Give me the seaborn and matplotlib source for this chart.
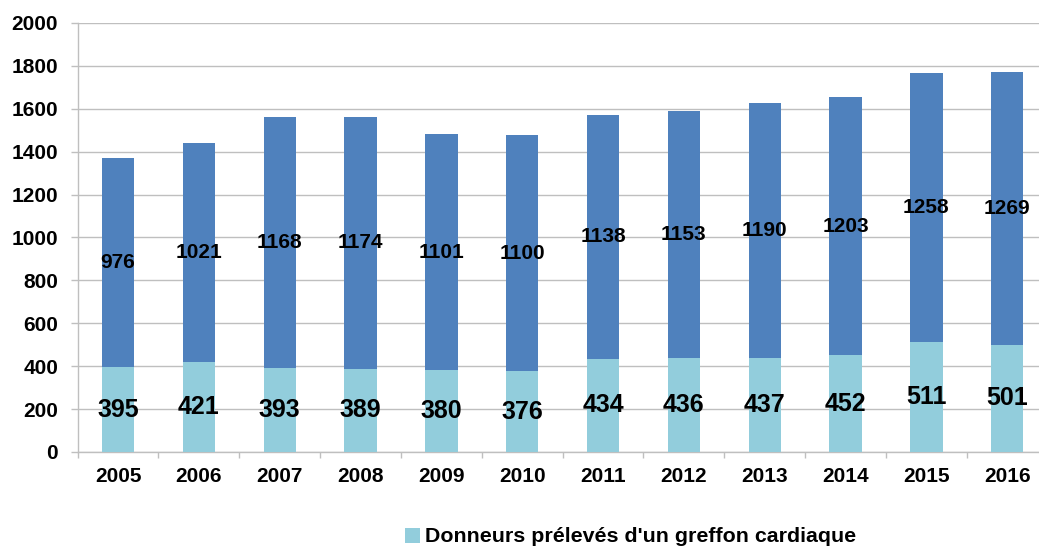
import numpy as np
import pandas as pd
import matplotlib
matplotlib.use("Agg")
import matplotlib.pyplot as plt
import seaborn as sns
from matplotlib.patches import Patch

# données
annees = ["2005", "2006", "2007", "2008", "2009", "2010",
          "2011", "2012", "2013", "2014", "2015", "2016"]
greffon_cardiaque = [395, 421, 393, 389, 380, 376, 434, 436, 437, 452, 511, 501]
autres = [976, 1021, 1168, 1174, 1101, 1100, 1138, 1153, 1190, 1203, 1258, 1269]

legende_bas = "Donneurs prélevés d'un greffon cardiaque"

clair = "#92CDDC"
fonce = "#4F81BD"
gris = "#BFBFBF"

sns.set_theme(style="white")
plt.rcParams["font.family"] = ["Liberation Sans", "DejaVu Sans"]
plt.rcParams["font.weight"] = "bold"
plt.rcParams["text.color"] = "black"

df = pd.DataFrame({"annee": annees, "bas": greffon_cardiaque, "haut": autres})

fig = plt.figure(figsize=(10.39, 5.47), dpi=100)
ax = fig.add_axes([0.0747, 0.1737, 0.9336, 0.7843])

sns.barplot(data=df, x="annee", y="bas", color=clair, width=0.4,
            linewidth=0, saturation=1, ax=ax, zorder=3)
sns.barplot(data=df, x="annee", y="haut", bottom=df["bas"].values, color=fonce,
            width=0.4, linewidth=0, saturation=1, ax=ax, zorder=3)

# étiquettes
ax.bar_label(ax.containers[0], labels=[str(v) for v in greffon_cardiaque],
             label_type="center", fontsize=18, fontweight="bold", color="black", zorder=5)
ax.bar_label(ax.containers[1], labels=[str(v) for v in autres],
             label_type="center", fontsize=15, fontweight="bold", color="black", zorder=5)

ax.set_ylim(0, 2000)
ax.set_xlim(-0.5, 11.5)
ax.set_yticks(np.arange(0, 2001, 200))
ax.yaxis.grid(True, color=gris, linewidth=1, zorder=0)
ax.set_axisbelow(True)
ax.set_xlabel("")
ax.set_ylabel("")

for s in ["top", "right"]:
    ax.spines[s].set_visible(False)
for s in ["left", "bottom"]:
    ax.spines[s].set_color(gris)
    ax.spines[s].set_linewidth(1)

ax.tick_params(axis="y", which="major", left=True, length=5, width=1,
               color=gris, pad=9, labelsize=15, labelcolor="black")
ax.tick_params(axis="x", which="major", bottom=False, length=0, pad=11,
               labelsize=15, labelcolor="black")
ax.set_xticks(np.arange(-0.5, 12, 1), minor=True)
ax.tick_params(axis="x", which="minor", bottom=True, length=4.5, width=1, color=gris)
for lab in ax.get_xticklabels() + ax.get_yticklabels():
    lab.set_fontweight("bold")

fig.legend(handles=[Patch(facecolor=clair, edgecolor="none")], labels=[legende_bas],
           loc="center left", bbox_to_anchor=(405 / 1039, 1 - 537 / 547),
           frameon=False, handlelength=0.7, handleheight=0.7, handletextpad=0.25,
           prop={"size": 15.4, "weight": "bold"}, labelcolor="black",
           borderpad=0, borderaxespad=0)

fig.savefig("out.png", dpi=100)
